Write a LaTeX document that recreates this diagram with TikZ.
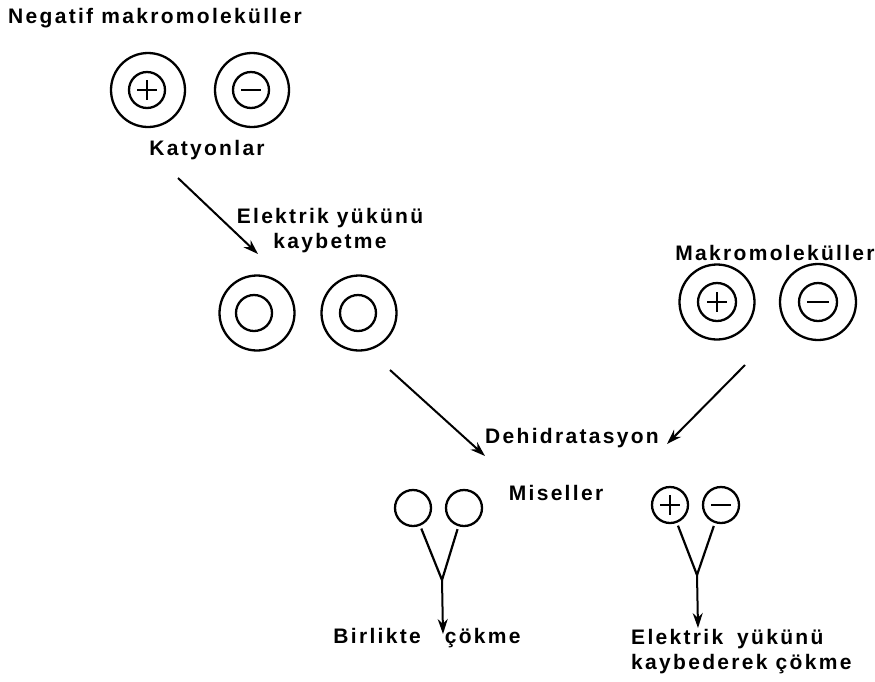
\documentclass[tikz,border=0pt]{standalone}
\usepackage{fontspec}
\setmainfont{Liberation Sans}[LetterSpace=11]
\usetikzlibrary{arrows.meta,calc}
\begin{document}
\begin{tikzpicture}[x=1pt,y=-1pt,
  lbl/.style={font=\fontsize{21}{25}\selectfont\bfseries, inner sep=0pt},
  outer/.style={circle, draw, line width=2.3pt, minimum size=#1, inner sep=0pt},
  inner/.style={circle, draw, line width=2.3pt, minimum size=#1, inner sep=0pt},
  sign/.style={line width=2.3pt},
  arr/.style={line width=2pt, -{Stealth[length=15pt,width=10pt]}},
  yline/.style={line width=2.2pt}]
\useasboundingbox (0,0) rectangle (875,681);
% top-left group
\node[lbl, anchor=west] (negtxt) at (8,18) {Negatif makromoleküller};
\node[outer=74pt] (o1) at (148,90) {};
\node[inner=36pt] (i1) at (147,90) {};
\draw[sign] ($(i1.center)+(-10,0)$) -- ($(i1.center)+(10,0)$) ($(i1.center)+(0,-10)$) -- ($(i1.center)+(0,10)$);
\node[outer=74pt] (o2) at (252,90) {};
\node[inner=36pt] (i2) at (251,90) {};
\draw[sign] ($(i2.center)+(-10,0)$) -- ($(i2.center)+(10,0)$);
\node[lbl] (kat) at (207,150) {Katyonlar};
% arrow 1
\coordinate (a1s) at (178,178);
\coordinate (a1e) at (258,254);
\draw[arr] (a1s) -- (a1e);
\node[lbl, align=center] (eyk) at (330,231) {Elektrik yükünü\\kaybetme};
% middle circles
\node[outer=75pt] (o3) at (257,313) {};
\node[inner=36pt] (i3) at (254,313) {};
\node[outer=75pt] (o4) at (359,313) {};
\node[inner=36pt] (i4) at (358,313) {};
% right group
\node[lbl] (mak) at (775,253) {Makromoleküller};
\node[outer=75pt] (o5) at (717,302) {};
\node[inner=38pt] (i5) at (717,302) {};
\draw[sign] ($(i5.center)+(-10,0)$) -- ($(i5.center)+(10,0)$) ($(i5.center)+(0,-10)$) -- ($(i5.center)+(0,10)$);
\node[outer=76pt] (o6) at (818,302) {};
\node[inner=38pt] (i6) at (818,302) {};
\draw[sign] ($(i6.center)+(-11,0)$) -- ($(i6.center)+(11,0)$);
% arrows to dehidratasyon
\coordinate (a2s) at (390,370);
\coordinate (a2e) at (485,456);
\draw[arr] (a2s) -- (a2e);
\coordinate (a3s) at (745,365);
\coordinate (a3e) at (667,444);
\draw[arr] (a3s) -- (a3e);
\node[lbl] (deh) at (572,438) {Dehidratasyon};
\node[lbl] (mis) at (556,493) {Miseller};
% bottom-left micelles
\node[inner=36pt] (m1) at (413,508) {};
\node[inner=36pt] (m2) at (464,508) {};
\coordinate (j1) at (442,580);
\coordinate (t1) at (443,634);
\draw[yline, shorten <=3pt] (m1) -- (j1);
\draw[yline, shorten <=3pt] (m2) -- (j1);
\draw[arr] (j1) -- (t1);
\node[lbl] (bc) at (427,638) {Birlikte\hspace{24pt}çökme};
% bottom-right charged
\node[inner=36pt] (p1) at (670,505) {};
\draw[sign] ($(p1.center)+(-10,0)$) -- ($(p1.center)+(10,0)$) ($(p1.center)+(0,-10)$) -- ($(p1.center)+(0,10)$);
\node[inner=36pt] (p2) at (721,505) {};
\draw[sign] ($(p2.center)+(-10,0)$) -- ($(p2.center)+(10,0)$);
\coordinate (j2) at (697,575);
\coordinate (t2) at (698,628);
\draw[yline, shorten <=3pt] (p1) -- (j2);
\draw[yline, shorten <=3pt] (p2) -- (j2);
\draw[arr] (j2) -- (t2);
\node[lbl, align=left, anchor=west] (eyk2) at (631,652) {Elektrik\hspace{14pt}yükünü\\kaybederek çökme};
\end{tikzpicture}
\end{document}
